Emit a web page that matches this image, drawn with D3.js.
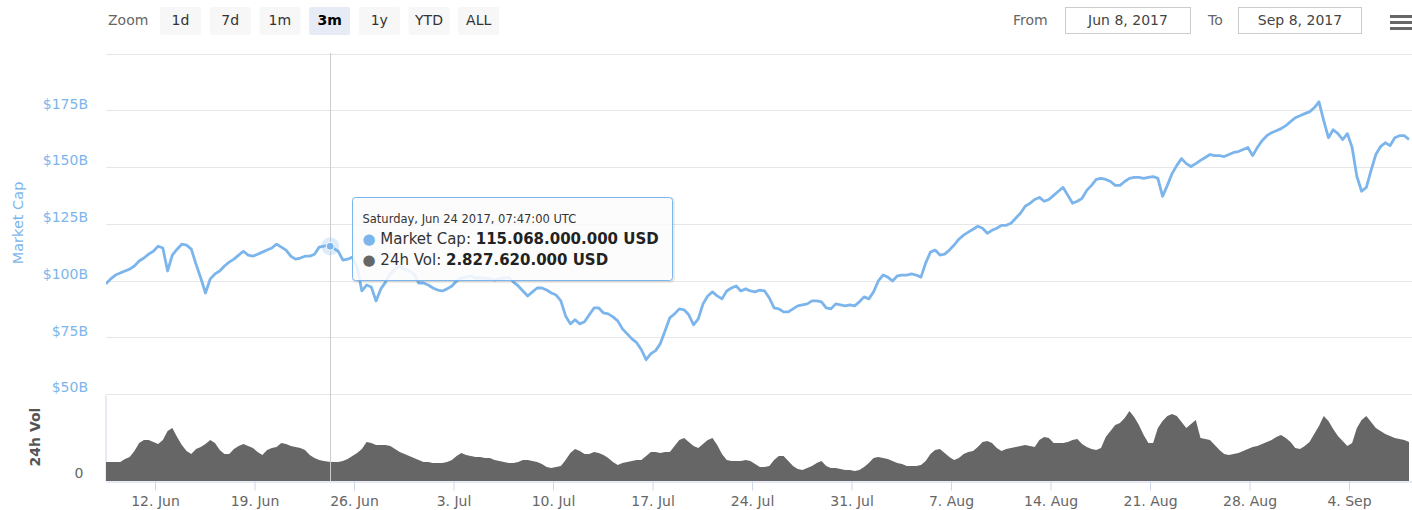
<!DOCTYPE html>
<html><head><meta charset="utf-8">
<script src="https://cdn.jsdelivr.net/npm/d3@7"></script>
<style>
body{margin:0;background:#fff}
svg{display:block;font-family:"DejaVu Sans",Verdana,sans-serif}
</style>
</head><body>
<svg id="chart" width="1412" height="510"></svg>
<script>
// ---------- data (values in billions of USD) ----------
const seriesStart = "2017-06-08T13:15:00Z";
const stepHours = 8;
const marketCap = [
98.5,100.7,102.4,103.3,104.2,105.0,106.4,108.6,109.9,111.6,112.9,115.1,114.3,104.2,111.2,113.8,116.0,115.6,113.8,107.2,
101.1,94.5,100.7,102.9,104.2,106.4,108.1,109.4,111.2,112.9,111.2,110.7,111.6,112.5,113.4,114.3,116.0,114.7,113.4,110.7,
109.4,109.9,110.7,110.7,111.6,114.7,115.1,115.6,114.3,112.9,109.0,109.4,110.3,105.9,95.4,98.0,97.1,91.0,96.3,99.3,
102.9,105.0,106.4,105.0,104.2,102.9,98.9,98.9,98.0,96.7,95.8,95.4,96.3,97.6,99.8,101.1,101.5,102.0,101.1,101.1,
101.1,100.7,100.2,100.7,101.1,101.5,99.3,97.6,95.4,93.2,95.0,96.7,96.7,95.8,94.5,93.6,91.0,84.4,80.9,82.7,
80.9,81.8,84.9,87.9,87.9,85.7,85.3,84.0,82.2,78.7,76.5,74.3,72.6,69.5,65.1,67.8,69.1,72.2,77.9,83.6,
85.3,87.5,87.1,84.9,80.5,83.1,89.7,93.2,95.0,93.2,91.9,95.4,96.7,97.6,95.4,96.3,95.4,95.0,95.8,95.4,
92.3,87.9,87.5,86.2,86.2,87.5,88.8,89.3,89.7,91.0,91.0,90.6,87.9,87.5,89.7,89.3,88.8,89.3,88.8,90.6,
92.8,91.9,95.0,99.8,102.4,101.5,99.8,102.0,102.4,102.4,102.9,102.4,101.5,107.7,112.5,113.4,111.2,111.6,113.4,115.6,
118.2,120.0,121.3,122.6,123.9,123.0,120.8,122.1,123.0,124.3,124.3,125.2,127.4,129.6,132.7,134.0,135.7,136.6,134.9,135.7,
137.5,139.3,141.0,137.5,134.0,134.9,136.2,139.7,141.9,144.5,145.0,144.5,143.6,141.9,141.9,143.6,145.0,145.4,145.4,145.0,
145.4,145.8,145.0,137.1,141.9,147.1,150.7,153.7,151.5,150.2,151.5,152.9,154.2,155.5,155.0,155.0,154.6,155.5,156.4,156.8,
157.7,158.6,155.0,158.6,161.6,163.8,165.1,166.0,166.9,168.2,170.0,171.7,172.6,173.5,174.3,176.1,178.7,170.4,162.9,166.4,
164.7,162.1,164.7,158.6,145.8,139.3,141.0,148.5,155.5,159.0,160.7,159.4,162.9,163.8,163.8,162.1
];
const volume24h = [
2.78,2.78,2.78,2.78,3.22,3.52,4.40,5.57,6.01,6.01,5.71,5.42,6.01,7.33,7.77,6.45,5.27,4.40,3.96,4.69,
4.98,5.42,6.01,5.57,4.54,3.96,3.96,4.69,5.13,5.42,5.13,4.84,4.25,3.81,4.54,4.84,4.98,5.57,5.42,5.13,
4.98,4.84,4.54,3.81,3.37,3.08,2.93,2.83,2.78,2.78,2.93,3.22,3.66,4.10,4.69,5.71,5.57,5.27,5.27,5.27,
5.13,4.69,4.25,3.96,3.66,3.37,3.08,2.78,2.78,2.64,2.64,2.64,2.78,3.08,3.66,4.10,3.81,3.66,3.52,3.52,
3.37,3.37,3.08,2.93,2.78,2.64,2.64,2.78,3.08,3.08,2.93,2.78,2.49,2.05,1.90,2.05,2.20,3.08,4.10,4.69,
4.40,3.96,3.96,4.25,4.10,3.81,3.37,2.78,2.34,2.64,2.78,2.93,3.08,3.08,3.66,4.25,4.25,4.10,4.25,4.25,
5.13,6.01,6.30,5.71,5.13,4.84,5.42,6.01,6.30,5.27,3.96,3.08,2.93,2.93,2.93,3.08,2.93,2.49,2.05,2.05,
2.20,3.08,3.66,3.66,2.93,2.20,1.76,1.61,1.90,2.20,2.64,2.93,2.20,1.90,1.90,1.76,1.61,1.61,1.47,1.61,
2.05,2.64,3.37,3.52,3.37,3.22,2.93,2.64,2.49,2.20,2.20,2.20,2.34,2.93,3.96,4.54,4.69,4.10,3.52,3.08,
3.37,3.96,4.25,4.40,4.98,5.71,5.86,5.57,4.84,4.40,4.69,4.84,4.98,5.13,5.27,5.13,4.98,6.01,6.45,6.30,
5.57,5.57,5.57,5.71,6.01,6.15,5.42,4.98,4.69,4.54,4.84,6.45,7.33,8.21,8.50,9.23,10.26,9.38,8.21,6.74,
5.57,5.57,7.77,8.79,9.52,9.82,9.52,8.64,7.77,8.35,8.94,6.30,6.15,6.01,5.27,4.54,3.96,3.81,3.96,4.10,
4.40,4.69,4.98,5.13,5.42,5.71,6.01,6.45,6.74,6.30,5.71,4.84,4.69,5.13,5.71,6.89,8.06,9.52,8.79,7.62,
6.59,5.86,5.13,5.57,7.77,8.94,9.52,8.64,7.77,7.33,6.89,6.59,6.30,6.15,6.01,5.71
];
const capTicks = [50, 75, 100, 125, 150, 175, 200];
const capTickLabels = ["$50B", "$75B", "$100B", "$125B", "$150B", "$175B", ""];
const volTicks = [0];
const zoomButtons = ["1d", "7d", "1m", "3m", "1y", "YTD", "ALL"];
const selectedZoom = "3m";
const rangeFrom = "Jun 8, 2017";
const rangeTo = "Sep 8, 2017";
const hoverTime = "2017-06-24T07:47:00Z";
const hoverCap = 115.068;
const hoverVol = 2.82762;

// ---------- setup ----------
const svg = d3.select("#chart");
const plotL = 106, plotR = 1412;
const t0 = new Date(seriesStart).getTime();
const timeAt = i => new Date(t0 + i * stepHours * 3600e3);

const x = d3.scaleUtc()
  .domain([new Date("2017-06-08T13:15:00Z"), new Date("2017-09-08T10:20:00Z")])
  .range([plotL, plotR]);
const yCap = d3.scaleLinear().domain([50, 200]).range([394, 53.5]);
const yVol = d3.scaleLinear().domain([0, 12.6]).range([481, 395]);

svg.append("defs").append("clipPath").attr("id", "clip")
  .append("rect").attr("x", plotL).attr("y", 40).attr("width", plotR - plotL).attr("height", 450);

// ---------- market cap axis / grid ----------
const gCap = svg.append("g").attr("transform", `translate(${plotL},0)`)
  .call(d3.axisLeft(yCap).tickValues(capTicks)
    .tickFormat((d, i) => capTickLabels[i]).tickSize(-(plotR - plotL)).tickPadding(18));
gCap.select(".domain").remove();
gCap.selectAll(".tick line").attr("stroke", "#e6e6e6").attr("shape-rendering", "crispEdges");
gCap.selectAll(".tick text").attr("fill", "#7cb5ec").attr("font-size", 14)
  .attr("font-family", "DejaVu Sans").attr("y", -7).attr("dy", "0.35em");

// ---------- volume axis ----------
const gVol = svg.append("g").attr("transform", `translate(${plotL - 0.5},0)`)
  .call(d3.axisLeft(yVol).tickValues(volTicks).tickSize(0).tickSizeOuter(0).tickPadding(22));
gVol.select(".domain").attr("stroke", "#ccd6eb");
gVol.selectAll(".tick text").attr("fill", "#666").attr("font-size", 14)
  .attr("font-family", "DejaVu Sans").attr("y", -8).attr("dy", "0.35em");

// axis titles
svg.append("text").attr("transform", "translate(23,223) rotate(-90)")
  .attr("text-anchor", "middle").attr("fill", "#7cb5ec").attr("font-size", 14.5)
  .text("Market Cap");
svg.append("text").attr("transform", "translate(40,437) rotate(-90)")
  .attr("text-anchor", "middle").attr("fill", "#555").attr("font-size", 14).attr("font-weight", "bold")
  .text("24h Vol");

// ---------- series ----------
const plot = svg.append("g").attr("clip-path", "url(#clip)");
plot.append("path").datum(volume24h)
  .attr("fill", "#666")
  .attr("d", d3.area().x((d, i) => x(timeAt(i))).y0(yVol(0)).y1(d => yVol(d)));

// crosshair
const hx = x(new Date(hoverTime));
svg.append("line").attr("x1", Math.round(hx) + 0.5).attr("x2", Math.round(hx) + 0.5)
  .attr("y1", 53).attr("y2", 481).attr("stroke", "#cccccc").attr("stroke-width", 1);

plot.append("path").datum(marketCap)
  .attr("fill", "none").attr("stroke", "#7cb5ec").attr("stroke-width", 2.8)
  .attr("stroke-linejoin", "round")
  .attr("d", d3.line().x((d, i) => x(timeAt(i))).y(d => yCap(d)));

// ---------- x axis ----------
const gX = svg.append("g").attr("transform", "translate(0,481.5)")
  .call(d3.axisBottom(x).ticks(d3.utcMonday.every(1))
    .tickFormat(d3.utcFormat("%-d. %b")).tickSize(9).tickSizeOuter(0));
gX.select(".domain").attr("stroke", "#ccd6eb");
gX.selectAll(".tick line").attr("stroke", "#ccd6eb");
gX.selectAll(".tick text").attr("fill", "#666").attr("font-size", 14)
  .attr("font-family", "DejaVu Sans").attr("y", 24).attr("dy", "0");

// hover marker
const hy = yCap(hoverCap);
svg.append("circle").attr("cx", hx).attr("cy", hy).attr("r", 9)
  .attr("fill", "#7cb5ec").attr("opacity", 0.25);
svg.append("circle").attr("cx", hx).attr("cy", hy).attr("r", 4)
  .attr("fill", "#7cb5ec").attr("stroke", "#fff").attr("stroke-width", 1);

// ---------- tooltip ----------
const fmtNum = d3.formatLocale({decimal: ",", thousands: ".", grouping: [3], currency: ["", ""]}).format(",.0f");
const tip = svg.append("g").attr("transform", "translate(352.5,197.5)");
tip.append("rect").attr("x", 1).attr("y", 1).attr("width", 320).attr("height", 83).attr("rx", 3)
  .attr("fill", "none").attr("stroke", "#000").attr("stroke-opacity", 0.08).attr("stroke-width", 3);
tip.append("rect").attr("width", 320).attr("height", 83).attr("rx", 3)
  .attr("fill", "rgba(252,252,252,0.88)").attr("stroke", "#7cb5ec").attr("stroke-width", 1);
tip.append("text").attr("x", 10).attr("y", 25).attr("font-size", 11.5).attr("fill", "#333")
  .text(d3.utcFormat("%A, %b %d %Y, %H:%M:%S UTC")(new Date(hoverTime)));
const l1 = tip.append("text").attr("x", 10).attr("y", 46).attr("font-size", 15).attr("fill", "#333");
l1.append("tspan").attr("fill", "#7cb5ec").text("\u25CF ");
l1.append("tspan").text("Market Cap: ");
l1.append("tspan").attr("font-weight", "bold").attr("fill", "#222").text(fmtNum(hoverCap * 1e9) + " USD");
const l2 = tip.append("text").attr("x", 10).attr("y", 67).attr("font-size", 15).attr("fill", "#333");
l2.append("tspan").attr("fill", "#666").text("\u25CF ");
l2.append("tspan").text("24h Vol: ");
l2.append("tspan").attr("font-weight", "bold").attr("fill", "#222").text(fmtNum(hoverVol * 1e9) + " USD");

// ---------- toolbar ----------
svg.append("text").attr("x", 108).attr("y", 25).attr("font-size", 14).attr("fill", "#666").text("Zoom");
const btn = svg.selectAll("g.btn").data(zoomButtons).join("g").attr("class", "btn")
  .attr("transform", (d, i) => `translate(${160 + i * 49.7},7)`);
btn.append("rect").attr("width", 41).attr("height", 28).attr("rx", 2)
  .attr("fill", d => d === selectedZoom ? "#e6ebf5" : "#f7f7f7");
btn.append("text").attr("x", 20.5).attr("y", 18).attr("text-anchor", "middle")
  .attr("font-size", 14).attr("fill", d => d === selectedZoom ? "#000" : "#333")
  .attr("font-weight", d => d === selectedZoom ? "bold" : "normal").text(d => d);

svg.append("text").attr("x", 1013).attr("y", 25).attr("font-size", 14).attr("fill", "#666").text("From");
svg.append("rect").attr("x", 1065.5).attr("y", 7.5).attr("width", 125).attr("height", 26)
  .attr("fill", "#fff").attr("stroke", "#cccccc");
svg.append("text").attr("x", 1128).attr("y", 25).attr("text-anchor", "middle").attr("font-size", 14)
  .attr("fill", "#444").text(rangeFrom);
svg.append("text").attr("x", 1208).attr("y", 25).attr("font-size", 14).attr("fill", "#666").text("To");
svg.append("rect").attr("x", 1238.5).attr("y", 7.5).attr("width", 123).attr("height", 26)
  .attr("fill", "#fff").attr("stroke", "#cccccc");
svg.append("text").attr("x", 1300).attr("y", 25).attr("text-anchor", "middle").attr("font-size", 14)
  .attr("fill", "#444").text(rangeTo);
[15, 21, 27].forEach(y => svg.append("rect").attr("x", 1390).attr("y", y).attr("width", 22)
  .attr("height", 3).attr("fill", "#666"));
</script>
</body></html>
